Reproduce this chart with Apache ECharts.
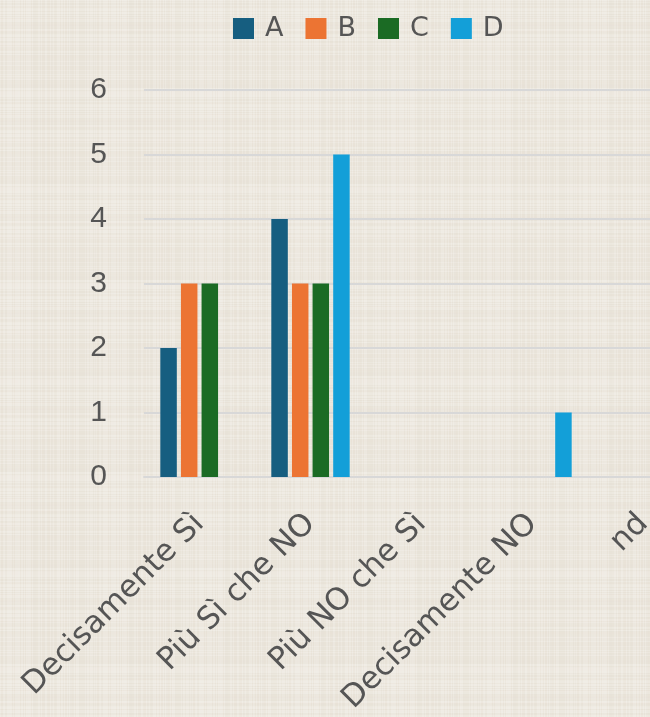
<!DOCTYPE html>
<html>
<head>
<meta charset="utf-8">
<script src="https://cdn.jsdelivr.net/npm/echarts@6/dist/echarts.min.js"></script>
<style>
  html, body { margin: 0; padding: 0; }
  #chart { width: 650px; height: 717px; background-color: #ede8df; }
</style>
</head>
<body>
<div id="chart"></div>
<script>
// Survey answer categories and counts per group
const categories = ['Decisamente Sì', 'Più Sì che NO', 'Più NO che Sì', 'Decisamente NO', 'nd'];
const seriesNames = ['A', 'B', 'C', 'D'];
const valuesA = [2, 4, 0, 0, 0];
const valuesB = [3, 3, 0, 0, 0];
const valuesC = [3, 3, 0, 0, 0];
const valuesD = [0, 5, 0, 1, 0];
const yTicks = [0, 1, 2, 3, 4, 5, 6];

const colors = ['#165e80', '#ec7433', '#1b6b24', '#139fd8'];

// Woven linen backdrop painted once onto a small tile
(function paintLinen() {
  const size = 96;
  const c = document.createElement('canvas');
  c.width = size; c.height = size;
  const g = c.getContext('2d');
  g.fillStyle = '#ede8df';
  g.fillRect(0, 0, size, size);
  const hash = (n) => { const s = Math.sin(n * 12.9898) * 43758.5453; return s - Math.floor(s); };
  for (let y = 0; y < size; y++) {
    const h = hash(y + 1);
    const tone = h > 0.5 ? 'rgba(255,255,255,' + (0.08 + 0.14 * (h - 0.5)) + ')' : 'rgba(150,130,100,' + (0.015 + 0.03 * h) + ')';
    g.fillStyle = tone;
    g.fillRect(0, y, size, 1);
  }
  for (let x = 0; x < size; x++) {
    const h = hash(x + 311);
    const tone = h > 0.55 ? 'rgba(255,255,255,' + (0.07 + 0.12 * (h - 0.55)) + ')' : 'rgba(150,130,100,' + (0.015 + 0.025 * h) + ')';
    g.fillStyle = tone;
    g.fillRect(x, 0, 1, size);
  }
  document.getElementById('chart').style.backgroundImage = 'url(' + c.toDataURL() + ')';
})();

const chart = echarts.init(document.getElementById('chart'), null, { renderer: 'canvas' });
const numFont = '"Liberation Sans", Arial, sans-serif';
const textFont = '"DejaVu Sans", sans-serif';
const valueSets = [valuesA, valuesB, valuesC, valuesD];

chart.setOption({
  backgroundColor: 'transparent',
  animation: false,
  color: colors,
  legend: {
    data: seriesNames,
    top: 10,
    left: 228,
    itemWidth: 21,
    itemHeight: 21,
    itemGap: 22,
    icon: 'rect',
    textStyle: { fontFamily: textFont, fontSize: 27, color: '#555555', padding: [0, 0, 0, 6] }
  },
  // The plot runs past the right edge of the canvas, so the fifth category is cut off
  grid: { left: 144, width: 555, top: 90, bottom: 240, containLabel: false, outerBoundsMode: 'none' },
  xAxis: {
    type: 'category',
    data: categories,
    axisLine: { show: true, lineStyle: { color: '#d8d8d8', width: 2 } },
    axisTick: { show: false },
    axisLabel: {
      rotate: 45,
      interval: 0,
      margin: 42,
      fontFamily: textFont,
      fontSize: 31,
      color: '#555555'
    }
  },
  yAxis: {
    type: 'value',
    min: yTicks[0],
    max: yTicks[yTicks.length - 1],
    interval: 1,
    axisLine: { show: false },
    axisTick: { show: false },
    splitLine: { lineStyle: { color: '#d8d8d8', width: 2 } },
    axisLabel: { margin: 37, fontFamily: numFont, fontSize: 30, color: '#555555' }
  },
  series: seriesNames.map((name, i) => ({
    name: name,
    type: 'bar',
    data: valueSets[i],
    barWidth: 16.5,
    barGap: '25%',
    itemStyle: { color: colors[i] }
  }))
});
</script>
</body>
</html>
